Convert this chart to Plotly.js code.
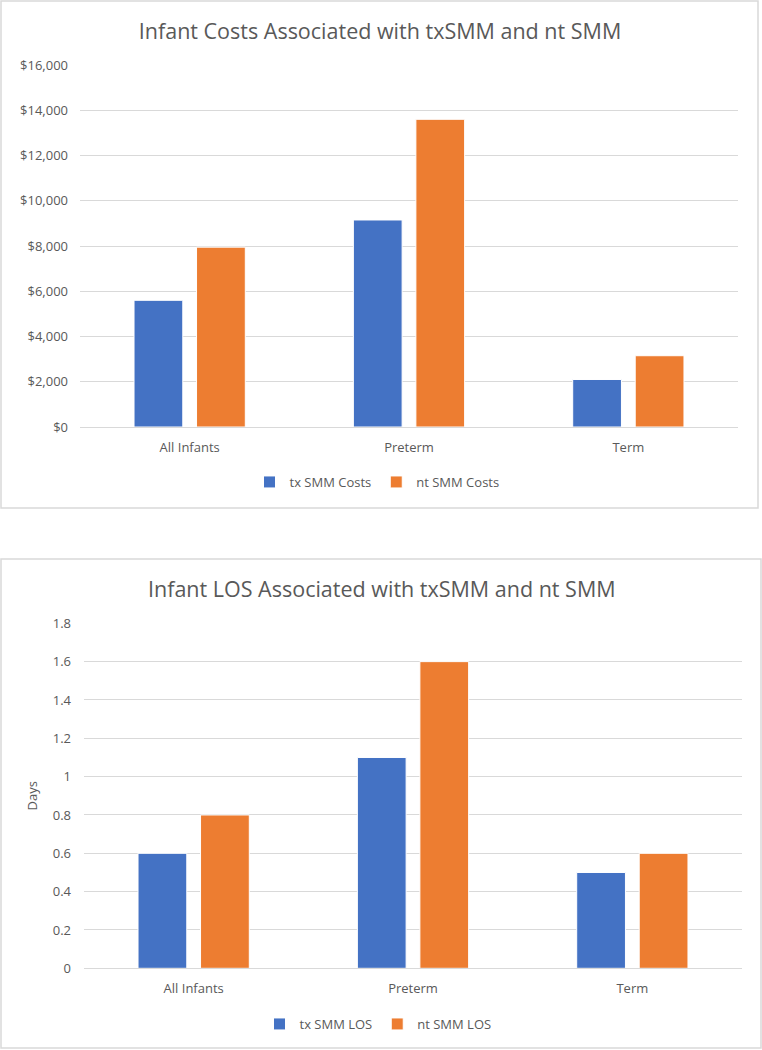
<!DOCTYPE html>
<html>
<head>
<meta charset="utf-8">
<script src="https://cdn.plot.ly/plotly-3.0.1.min.js"></script>
<style>html,body{margin:0;padding:0;background:#fff}#chart{width:762px;height:1050px}</style>
</head>
<body>
<div id="chart"></div>
<script>
const categories = ["All Infants", "Preterm", "Term"];
const txCosts = [5600, 9150, 2100];
const ntCosts = [7950, 13600, 3150];
const txLOS = [0.6, 1.1, 0.5];
const ntLOS = [0.8, 1.6, 0.6];
const costTitle = "Infant Costs Associated with txSMM and nt SMM";
const losTitle = "Infant LOS Associated with txSMM and nt SMM";

const W = 762, H = 1050;
const px = v => v / W;
const py = v => 1 - v / H;
const BLUE = "#4472C4", ORANGE = "#ED7D31", GREY = "#595959", GRID = "#D9D9D9";
const FONT = "Open Sans, sans-serif";

const traces = [
  {type: "bar", name: "tx SMM Costs", x: categories, y: txCosts, xaxis: "x", yaxis: "y", legend: "legend",
   marker: {color: BLUE, line: {color: "#ffffff", width: 1}}},
  {type: "bar", name: "nt SMM Costs", x: categories, y: ntCosts, xaxis: "x", yaxis: "y", legend: "legend",
   marker: {color: ORANGE, line: {color: "#ffffff", width: 1}}},
  {type: "bar", name: "tx SMM LOS", x: categories, y: txLOS, xaxis: "x2", yaxis: "y2", legend: "legend2",
   marker: {color: BLUE, line: {color: "#ffffff", width: 1}}},
  {type: "bar", name: "nt SMM LOS", x: categories, y: ntLOS, xaxis: "x2", yaxis: "y2", legend: "legend2",
   marker: {color: ORANGE, line: {color: "#ffffff", width: 1}}}
];

const tickFont = {family: FONT, size: 13, color: GREY};

const layout = {
  width: W, height: H,
  margin: {l: 0, r: 0, t: 0, b: 0},
  paper_bgcolor: "#ffffff", plot_bgcolor: "#ffffff",
  font: {family: FONT, color: GREY},
  barmode: "group",
  bargap: 0.43,
  bargroupgap: 0.22,
  hovermode: false,
  title: {text: costTitle, x: px(380), xanchor: "center", y: py(31), yanchor: "middle",
          font: {family: FONT, size: 21.5, color: GREY}},
  xaxis: {domain: [px(80), px(738)], anchor: "y", showgrid: false, zeroline: false,
          showline: true, linecolor: GRID, linewidth: 1, ticks: "", tickfont: tickFont, ticklabelstandoff: 8},
  yaxis: {domain: [py(427), py(65)], anchor: "x", range: [0, 16000], dtick: 2000,
          tickprefix: "$", tickformat: ",d", showgrid: true, gridcolor: GRID, gridwidth: 1,
          zeroline: false, showline: false, ticks: "", tickfont: tickFont, ticklabelstandoff: 11},
  xaxis2: {domain: [px(84), px(742)], anchor: "y2", showgrid: false, zeroline: false,
           showline: true, linecolor: GRID, linewidth: 1, ticks: "", tickfont: tickFont, ticklabelstandoff: 8},
  yaxis2: {domain: [py(968.3), py(623.3)], anchor: "x2", range: [0, 1.8], dtick: 0.2,
           showgrid: true, gridcolor: GRID, gridwidth: 1, zeroline: false, showline: false,
           ticks: "", tickfont: tickFont, ticklabelstandoff: 12,
           title: {text: "Days", font: {family: FONT, size: 13, color: GREY}, standoff: 12}},
  legend: {orientation: "h", x: px(377), xanchor: "center", y: py(482), yanchor: "middle",
           font: {family: FONT, size: 13, color: GREY}, itemwidth: 30, tracegroupgap: 0,
           bgcolor: "rgba(0,0,0,0)"},
  legend2: {orientation: "h", x: px(378), xanchor: "center", y: py(1024), yanchor: "middle",
            font: {family: FONT, size: 13, color: GREY}, itemwidth: 30, tracegroupgap: 0,
            bgcolor: "rgba(0,0,0,0)"},
  annotations: [
    {text: losTitle, xref: "paper", yref: "paper", x: px(382), y: py(588), xanchor: "center", yanchor: "middle",
     showarrow: false, font: {family: FONT, size: 21.5, color: GREY}}
  ],
  shapes: [
    {type: "rect", xref: "paper", yref: "paper", x0: px(1), x1: px(758), y0: py(508), y1: py(1),
     line: {color: GRID, width: 1.5}, layer: "below"},
    {type: "rect", xref: "paper", yref: "paper", x0: px(1), x1: px(761), y0: py(1048), y1: py(559),
     line: {color: GRID, width: 1.5}, layer: "below"}
  ]
};

Plotly.newPlot("chart", traces, layout, {displayModeBar: false, staticPlot: true});
</script>
</body>
</html>
